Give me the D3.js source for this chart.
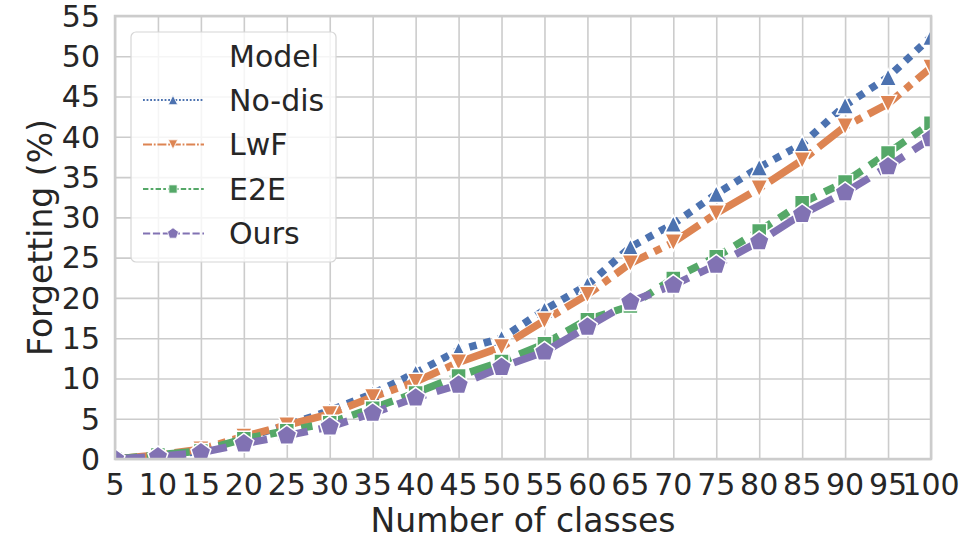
<!DOCTYPE html>
<html>
<head>
<meta charset="utf-8">
<script src="https://cdn.jsdelivr.net/npm/d3@7"></script>
<style>
  body { margin: 0; background: #fff; }
  svg text { font-family: "DejaVu Sans", sans-serif; fill: #262626; }
</style>
</head>
<body>
<svg id="chart" width="960" height="540"></svg>
<script>
// data
const classes = [5, 10, 15, 20, 25, 30, 35, 40, 45, 50, 55, 60, 65, 70, 75, 80, 85, 90, 95, 100];
const noDis = [0, 0.3, 1.0, 2.6, 4.2, 6.0, 8.1, 10.7, 13.5, 15.0, 18.5, 21.6, 26.3, 29.2, 32.9, 36.2, 39.1, 43.9, 47.4, 52.4];
const lwf   = [0, 0.5, 1.2, 2.8, 4.2, 5.6, 7.7, 9.6, 12.0, 13.9, 17.2, 20.4, 24.3, 26.9, 30.5, 33.6, 37.1, 41.3, 44.1, 48.6];
const e2e   = [0, 0.5, 1.0, 2.5, 3.5, 4.5, 6.3, 8.2, 10.3, 12.1, 14.3, 17.3, 19.0, 22.4, 25.1, 28.3, 31.8, 34.4, 38.0, 41.7];
const ours  = [0, 0.3, 0.8, 1.9, 2.9, 4.0, 5.7, 7.6, 9.2, 11.4, 13.3, 16.4, 19.5, 21.6, 24.1, 27.0, 30.4, 33.1, 36.3, 39.8];
const yTicks = [0, 5, 10, 15, 20, 25, 30, 35, 40, 45, 50, 55];
const seriesNames = ['No-dis', 'LwF', 'E2E', 'Ours'];
const legendTitle = 'Model';

const series = [
  { name: seriesNames[0], values: noDis, color: '#4c72b0', dash: [1, 1],             marker: 'tri-up' },
  { name: seriesNames[1], values: lwf,   color: '#dd8452', dash: [5, 1, 1, 1],       marker: 'tri-down' },
  { name: seriesNames[2], values: e2e,   color: '#55a868', dash: [3, 1.25, 1.5, 1.25], marker: 'square' },
  { name: seriesNames[3], values: ours,  color: '#8172b3', dash: [4, 1.5],           marker: 'pentagon' }
];

const svg = d3.select('#chart');
const pLeft = 115, pRight = 931, pTop = 16, pBottom = 459;
const lw = 7.5;

const xScale = d3.scaleLinear().domain([5, 100]).range([pLeft, pRight]);
const yScale = d3.scaleLinear().domain([0, 55]).range([pBottom, pTop]);

// marker paths, s = marker size
function markerPath(type, s) {
  const h = s / 2;
  if (type === 'tri-up') return `M0,${-h}L${h},${h}L${-h},${h}Z`;
  if (type === 'tri-down') return `M0,${h}L${h},${-h}L${-h},${-h}Z`;
  if (type === 'square') return `M${-h},${-h}H${h}V${h}H${-h}Z`;
  const pts = d3.range(5).map(i => {
    const a = -Math.PI / 2 + i * 2 * Math.PI / 5;
    return [h * Math.cos(a), h * Math.sin(a)];
  });
  return 'M' + pts.map(p => p.join(',')).join('L') + 'Z';
}
const markerSize = { 'tri-up': 17, 'tri-down': 17, 'square': 15, 'pentagon': 21 };

svg.append('defs').append('clipPath').attr('id', 'plotClip')
  .append('rect')
  .attr('x', pLeft).attr('y', pTop)
  .attr('width', pRight - pLeft).attr('height', pBottom - pTop);

// grid
svg.append('g')
  .attr('transform', `translate(0, ${pBottom})`)
  .call(d3.axisBottom(xScale).tickValues(classes).tickSize(-(pBottom - pTop)).tickFormat(''))
  .call(g => g.select('.domain').remove())
  .call(g => g.selectAll('line').attr('stroke', '#cccccc').attr('stroke-width', 1.6));

svg.append('g')
  .attr('transform', `translate(${pLeft}, 0)`)
  .call(d3.axisLeft(yScale).tickValues(yTicks).tickSize(-(pRight - pLeft)).tickFormat(''))
  .call(g => g.select('.domain').remove())
  .call(g => g.selectAll('line').attr('stroke', '#cccccc').attr('stroke-width', 1.6));

// tick labels
svg.append('g').selectAll('text')
  .data(classes)
  .enter()
  .append('text')
  .attr('x', d => xScale(d))
  .attr('y', 495)
  .attr('text-anchor', 'middle')
  .attr('font-size', '30px')
  .text(d => d);

svg.append('g').selectAll('text')
  .data(yTicks)
  .enter()
  .append('text')
  .attr('x', 100)
  .attr('y', d => yScale(d))
  .attr('dy', '0.36em')
  .attr('text-anchor', 'end')
  .attr('font-size', '30px')
  .text(d => d);

// lines + markers
const line = d3.line()
  .x((d, i) => xScale(classes[i]))
  .y(d => yScale(d));

const plot = svg.append('g').attr('clip-path', 'url(#plotClip)');

series.forEach(s => {
  const g = plot.append('g');
  g.append('path')
    .datum(s.values)
    .attr('d', line)
    .attr('fill', 'none')
    .attr('stroke', s.color)
    .attr('stroke-width', lw)
    .attr('stroke-dasharray', s.dash.map(v => v * lw).join(','));

  g.selectAll('path.mk')
    .data(s.values)
    .enter()
    .append('path')
    .attr('class', 'mk')
    .attr('transform', (d, i) => `translate(${xScale(classes[i])}, ${yScale(d)})`)
    .attr('d', markerPath(s.marker, markerSize[s.marker]))
    .attr('fill', s.color)
    .attr('stroke', '#fff')
    .attr('stroke-width', 1.5);
});

// spines
svg.append('rect')
  .attr('x', pLeft).attr('y', pTop)
  .attr('width', pRight - pLeft).attr('height', pBottom - pTop)
  .attr('fill', 'none')
  .attr('stroke', '#cccccc')
  .attr('stroke-width', 2.5);

// axis labels
svg.append('text')
  .attr('x', (pLeft + pRight) / 2)
  .attr('y', 532)
  .attr('text-anchor', 'middle')
  .attr('font-size', '33px')
  .text('Number of classes');

svg.append('text')
  .attr('transform', `translate(52, ${(pTop + pBottom) / 2}) rotate(-90)`)
  .attr('text-anchor', 'middle')
  .attr('font-size', '33px')
  .text('Forgetting (%)');

// legend
const legend = svg.append('g');
legend.append('rect')
  .attr('x', 131).attr('y', 32)
  .attr('width', 205).attr('height', 230)
  .attr('rx', 5)
  .attr('fill', '#fff')
  .attr('fill-opacity', 0.8)
  .attr('stroke', '#d6d6d6')
  .attr('stroke-width', 1.2);

legend.append('text')
  .attr('x', 229).attr('y', 56)
  .attr('dy', '0.36em')
  .attr('font-size', '30px')
  .text(legendTitle);

const legLw = 1.8;
series.forEach((s, i) => {
  const y = 100 + i * 44.5;
  legend.append('line')
    .attr('x1', 143).attr('x2', 204)
    .attr('y1', y).attr('y2', y)
    .attr('stroke', s.color)
    .attr('stroke-width', legLw)
    .attr('stroke-dasharray', s.dash.map(v => v * legLw).join(','));
  legend.append('path')
    .attr('transform', `translate(173, ${y})`)
    .attr('d', markerPath(s.marker, markerSize[s.marker] * 0.55))
    .attr('fill', s.color)
    .attr('stroke', '#fff')
    .attr('stroke-width', 0.8);
  legend.append('text')
    .attr('x', 229).attr('y', y)
    .attr('dy', '0.36em')
    .attr('font-size', '30px')
    .text(s.name);
});
</script>
</body>
</html>
